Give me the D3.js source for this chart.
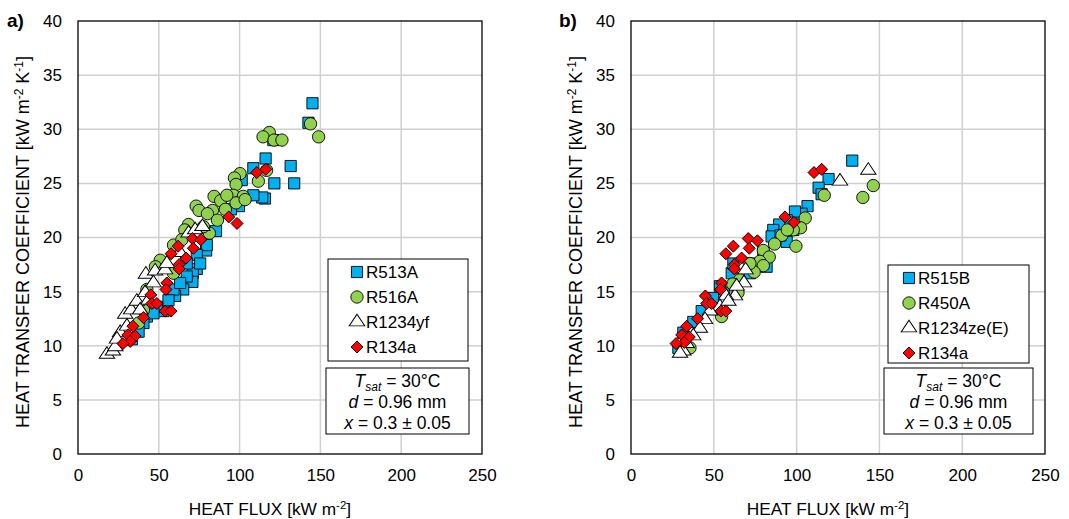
<!DOCTYPE html>
<html>
<head>
<meta charset="utf-8">
<script src="https://cdn.jsdelivr.net/npm/d3@7"></script>
<style>
  body { margin: 0; background: #fff; }
  svg { font-family: "Liberation Sans", Arial, sans-serif; }
</style>
</head>
<body>
<div id="chart"></div>
<script>
// ---- data: [heat flux kW/m2, HTC kW/m2K] ----
var xTicks = [0, 50, 100, 150, 200, 250];
var yTicks = [0, 5, 10, 15, 20, 25, 30, 35, 40];

var r513a = [[145.1,32.4],[142.6,30.6],[131.6,26.6],[133.8,25.0],[121.5,25.0],[116.1,27.3],[115.7,23.6],[114,23.7],
  [108.5,26.4],[108.5,23.9],[120.9,29.0],[101.3,25.3],[99.6,22.9],[94.7,22.6],[85.4,20.6],[79.3,18.8],[79.7,19.3],
  [73.5,18.4],[73.5,17.1],[71.0,16.7],[70.8,15.9],[65.1,15.2],[60.1,14.6],[59.1,15.2],[52.9,13.2],[48.8,13.6],
  [42.6,12.7],[40.5,12.1],[37.5,11.3],[33.4,10.6],[67.3,17.6],[67.3,16.4],[63.2,15.8],[75.6,17.6],[56,14.2],[46.7,13.0]];
var r516a = [[143.9,30.5],[148.9,29.3],[118.4,29.7],[114.5,29.3],[121.3,29.0],[126.2,29.0],[111.6,25.2],[116.7,26.2],
  [100.3,25.9],[96.8,25.5],[97.8,24.9],[96.2,23.9],[102.3,23.8],[97.8,23.2],[103.4,23.5],[84.2,23.8],[88.3,23.4],
  [92.1,23.9],[73.1,22.9],[74.9,22.5],[83.2,22.5],[80.1,22.2],[86.3,21.6],[91.2,22.6],[81.3,20.4],[68.4,21.2],
  [66.1,20.7],[59.1,19.3],[64.3,19.8],[50.9,17.9],[47.9,17.3],[59.1,16.7],[42.6,15.2],[40.5,13.3],[37.5,12.1],[77.6,21.0]];
var r1234yf = [[17.9,9.2],[21.6,9.5],[23.1,9.9],[26.1,11.2],[29.2,12.9],[32.9,13.3],[36.4,14.1],[41.6,14.9],[42.0,16.6],
  [46.7,15.8],[47.7,16.9],[53.9,17.0],[55.0,17.6],[63.2,18.6],[68.4,20.4],[72.5,20.7],[77.0,21.0],[24.1,10.6],
  [30.3,11.8],[38.5,13.3],[43.6,14.2]];
var r134a = [[110.6,26.0],[116.2,26.3],[93.3,21.9],[98.4,21.3],[70.8,19.9],[76.0,19.8],[71.4,19.0],[62.0,19.2],
  [57.6,18.5],[66.9,18.1],[62.6,17.5],[62.6,17.1],[55.0,15.8],[54.4,15.2],[45.1,14.7],[45.7,13.9],[48.8,13.9],
  [53.9,13.2],[57.6,13.2],[40.5,12.6],[34.0,11.8],[30.9,11.0],[35.4,10.9],[32.3,10.4],[27.8,10.2]];

var r515b = [[133.6,27.1],[119.3,25.4],[113.3,24.6],[115.1,24.0],[106.6,22.9],[103.0,22.2],[99.0,22.4],[94.0,21.6],
  [89.5,21.2],[85.9,20.7],[84.9,20.1],[94.0,19.6],[81.9,17.3],[79.9,18.6],[73.8,17.6],[71.8,16.7],[60.8,16.7],
  [61.8,17.6],[53.7,15.5],[49.7,14.4],[42.7,13.2],[37.6,12.2],[31.6,11.2],[28.6,9.8],[56.3,14.9],[90.3,20.2],[98,20.7]];
var r450a = [[146.3,24.8],[140.0,23.7],[116.7,23.9],[105.2,21.8],[102.4,20.9],[98.0,20.7],[91.1,20.2],[99.6,19.2],
  [86.7,19.4],[79.9,18.8],[83.5,18.2],[77.8,17.8],[79.9,17.4],[74.4,16.8],[71.8,17.6],[65.8,16.1],[61.4,15.7],
  [64.6,14.9],[54.7,12.7],[35.6,9.8],[94.4,20.7]];
var r1234zeE = [[143.3,26.2],[126.2,25.2],[69.2,17.0],[68.2,15.8],[62.8,14.6],[57.3,14.6],[53.7,13.6],[47.7,13.2],
  [44.7,12.4],[41.6,11.6],[37.6,10.9],[33.6,10.2],[31.6,9.5],[29.6,9.3],[63.8,15.5],[58.8,14.1]];
var r134aB = [[110.5,26.0],[115.1,26.3],[93.0,21.9],[98.4,21.4],[70.8,19.9],[76.3,19.7],[71.4,19.0],[61.8,19.2],
  [57.3,18.5],[66.8,18.1],[62.4,17.5],[62.4,17.1],[54.7,15.8],[54.1,15.2],[44.9,14.6],[45.7,13.9],[48.7,13.9],
  [54.3,13.2],[57.3,13.2],[40.2,12.5],[33.6,11.8],[30.6,11.0],[35.2,10.8],[32.2,10.3],[27.2,10.2]];

var markers = {
    square: { path: d3.symbol().type(d3.symbolSquare).size(125)(), fill: '#00B0F0', rot: 0 },
    circle: { path: d3.symbol().type(d3.symbolCircle).size(120)(), fill: '#92D050', rot: 0 },
    triangle: { path: d3.symbol().type(d3.symbolTriangle).size(78)(), fill: '#FFFFFF', rot: 0 },
    diamond: { path: d3.symbol().type(d3.symbolSquare).size(72)(), fill: '#FF0000', rot: 45 }
};

var svg = d3.select('#chart').append('svg')
    .attr('width', 1069).attr('height', 519);

function markerTransform(m, name, px, py) {
    return `translate(${px},${py}) rotate(${m.rot})` + (name === 'triangle' ? ' scale(1.15,1)' : '');
}

function drawPanel(cfg) {
    var g = svg.append('g');
    var x = d3.scaleLinear().domain([0, 250]).range([cfg.left, cfg.right]);
    var y = d3.scaleLinear().domain([0, 40]).range([454, 21]);

    // grid
    g.selectAll('line.gx').data(xTicks.slice(1, -1)).join('line')
        .attr('x1', d => x(d)).attr('x2', d => x(d)).attr('y1', y(0)).attr('y2', y(40))
        .attr('stroke', '#d0d0d0').attr('stroke-width', 1.5);
    g.selectAll('line.gy').data(yTicks.slice(1, -1)).join('line')
        .attr('x1', x(0)).attr('x2', x(250)).attr('y1', d => y(d)).attr('y2', d => y(d))
        .attr('stroke', '#d0d0d0').attr('stroke-width', 1.5);

    // axes (labels only, frame drawn separately)
    var xAxis = g.append('g').attr('transform', `translate(0,${y(0)})`)
        .call(d3.axisBottom(x).tickValues(xTicks).tickSize(0).tickPadding(15));
    var yAxis = g.append('g').attr('transform', `translate(${x(0)},0)`)
        .call(d3.axisLeft(y).tickValues(yTicks).tickSize(0).tickPadding(16));
    [xAxis, yAxis].forEach(a => {
        a.select('.domain').remove();
        a.selectAll('text').attr('font-size', 17).attr('fill', '#000')
            .attr('font-family', '"Liberation Sans", Arial, sans-serif');
    });

    g.append('rect').attr('x', x(0)).attr('y', y(40))
        .attr('width', x(250) - x(0)).attr('height', y(0) - y(40))
        .attr('fill', 'none').attr('stroke', '#000').attr('stroke-width', 1.3);

    // points
    cfg.series.forEach(s => {
        var m = markers[s.marker];
        g.append('g').selectAll('path').data(s.data).join('path')
            .attr('d', m.path)
            .attr('transform', d => markerTransform(m, s.marker, x(d[0]), y(d[1])))
            .attr('fill', m.fill).attr('stroke', '#000').attr('stroke-width', 0.9);
    });

    // titles
    g.append('text').attr('x', (x(0) + x(250)) / 2 - 10).attr('y', 515)
        .attr('text-anchor', 'middle').attr('font-size', 17.3)
        .html('HEAT FLUX [kW m<tspan dy="-6" font-size="11.5">-2</tspan><tspan dy="6">]</tspan>');
    g.append('text').attr('transform', `translate(${cfg.ytx},242) rotate(-90)`)
        .attr('text-anchor', 'middle').attr('font-size', 18)
        .html('HEAT TRANSFER COEFFICIENT [kW m<tspan dy="-6" font-size="12">-2</tspan><tspan dy="6"> K</tspan><tspan dy="-6" font-size="12">-1</tspan><tspan dy="6">]</tspan>');
    g.append('text').attr('x', cfg.tagX).attr('y', 27).attr('font-size', 19)
        .attr('font-weight', 'bold').text(cfg.tag);

    // legend
    var lg = cfg.legend;
    g.append('rect').attr('x', lg.x).attr('y', lg.y).attr('width', lg.w).attr('height', lg.h)
        .attr('fill', '#fff').attr('stroke', '#000').attr('stroke-width', 1);
    cfg.series.forEach((s, i) => {
        var m = markers[s.marker];
        var cy = lg.y + 13 + i * 25;
        g.append('path').attr('d', m.path)
            .attr('transform', markerTransform(m, s.marker, lg.mx, cy))
            .attr('fill', m.fill).attr('stroke', '#000').attr('stroke-width', 0.9);
        g.append('text').attr('x', lg.mx + 9).attr('y', cy + 6).attr('font-size', 17).text(s.name);
    });

    // conditions box
    var cb = cfg.cond;
    g.append('rect').attr('x', cb.x).attr('y', 368).attr('width', cb.w).attr('height', 66)
        .attr('fill', '#fff').attr('stroke', '#000').attr('stroke-width', 1);
    var cx = cb.x + cb.w / 2;
    g.append('text').attr('x', cx).attr('y', 387).attr('text-anchor', 'middle').attr('font-size', 17.5)
        .html('<tspan font-style="italic">T</tspan><tspan font-style="italic" font-size="12" dy="4">sat</tspan><tspan dy="-4"> = 30°C</tspan>');
    g.append('text').attr('x', cx).attr('y', 408).attr('text-anchor', 'middle').attr('font-size', 17.5)
        .html('<tspan font-style="italic">d</tspan> = 0.96 mm');
    g.append('text').attr('x', cx).attr('y', 429).attr('text-anchor', 'middle').attr('font-size', 17.5)
        .html('<tspan font-style="italic">x</tspan> = 0.3 ± 0.05');
}

drawPanel({
    left: 78, right: 482, ytx: 29, tag: 'a)', tagX: 7,
    series: [
        { name: 'R513A', data: r513a, marker: 'square' },
        { name: 'R516A', data: r516a, marker: 'circle' },
        { name: 'R1234yf', data: r1234yf, marker: 'triangle' },
        { name: 'R134a', data: r134a, marker: 'diamond' }
    ],
    legend: { x: 328, y: 259, w: 140, h: 102, mx: 357 },
    cond: { x: 326, w: 143 }
});

drawPanel({
    left: 631, right: 1045, ytx: 582, tag: 'b)', tagX: 559,
    series: [
        { name: 'R515B', data: r515b, marker: 'square' },
        { name: 'R450A', data: r450a, marker: 'circle' },
        { name: 'R1234ze(E)', data: r1234zeE, marker: 'triangle' },
        { name: 'R134a', data: r134aB, marker: 'diamond' }
    ],
    legend: { x: 888, y: 265, w: 141, h: 98, mx: 909 },
    cond: { x: 884, w: 149 }
});
</script>
</body>
</html>
